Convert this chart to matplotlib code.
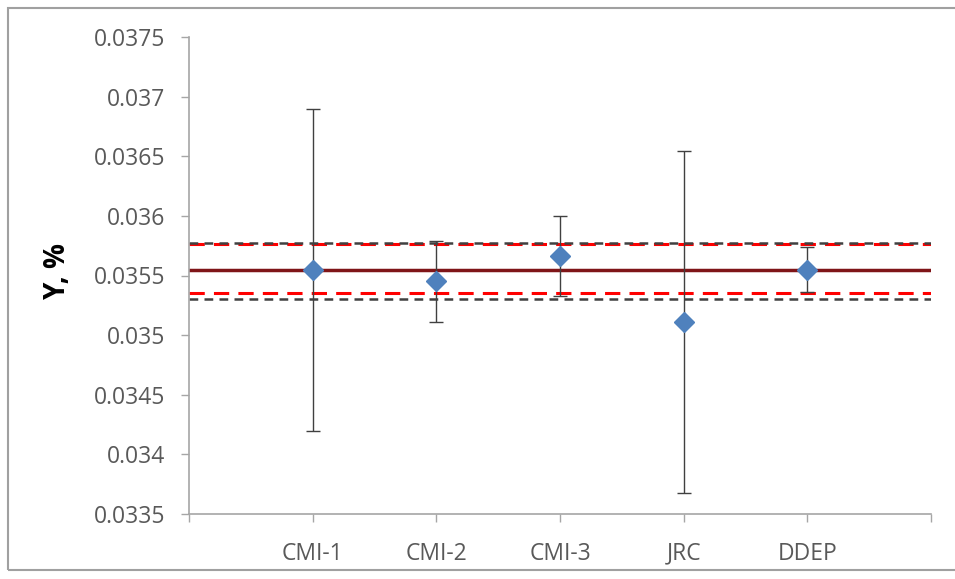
import matplotlib
matplotlib.use("Agg")
import matplotlib.pyplot as plt
import matplotlib.ticker as mticker
from matplotlib.patches import Rectangle

# ------------------------------------------------------------------
# Data
# ------------------------------------------------------------------
labs = ["CMI-1", "CMI-2", "CMI-3", "JRC", "DDEP"]
x_pos = [1, 2, 3, 4, 5]
y_vals = [0.03555, 0.03545, 0.03566, 0.03511, 0.03555]
y_err = [0.00135, 0.00034, 0.000335, 0.00143, 0.000185]

ref_mean = 0.03555
red_band = [0.03535, 0.03576]
grey_band = [0.03530, 0.03577]

_TXT = "#595959"
_AXIS = "#A6A6A6"
_MARK = "#4F81BD"

plt.rcParams.update({
    "font.family": ["Open Sans", "DejaVu Sans"],
    "font.size": 16,
})

fig = plt.figure(figsize=(9.55, 5.79), dpi=100)
ax = fig.add_axes([189 / 955, 1 - 514 / 579, (931 - 189) / 955, (514 - 37) / 579])

# reference lines
ax.axhline(ref_mean, color="#7F1518", lw=2.5, zorder=2)
for yv in red_band:
    ax.axhline(yv, color="#FF0000", lw=2.2, dashes=(5, 3), zorder=2)
for yv in grey_band:
    ax.axhline(yv, color="#404040", lw=1.8, dashes=(3.5, 2.5), zorder=2.1)

# results with uncertainties
ax.errorbar(x_pos, y_vals, yerr=y_err, fmt="none", ecolor="#404040",
            elinewidth=1.0, capsize=5, capthick=1.0, zorder=3)
ax.plot(x_pos, y_vals, linestyle="none", marker="D", markersize=10,
        color=_MARK, markeredgecolor=_MARK, zorder=4)

ax.set_xlim(0, 6)
ax.set_ylim(0.0335, 0.0375)
ax.set_xticks(x_pos)
ax.set_xticklabels(labs)
ax.yaxis.set_major_locator(mticker.MultipleLocator(0.0005))
ax.yaxis.set_major_formatter(mticker.FuncFormatter(lambda v, p: f"{v:.4f}".rstrip("0")))

# extra tick marks at the axis ends (Excel style)
ax.xaxis.set_minor_locator(mticker.FixedLocator([0, 6]))
ax.tick_params(axis="x", which="both", length=6, color=_AXIS, width=1.0,
               labelcolor=_TXT, pad=14, labelsize=16.5)
ax.tick_params(axis="y", length=6, color=_AXIS, width=1.0,
               labelcolor=_TXT, pad=11, labelsize=16.5)

for side in ("top", "right"):
    ax.spines[side].set_visible(False)
for side in ("left", "bottom"):
    ax.spines[side].set_color(_AXIS)
    ax.spines[side].set_linewidth(1.2)

ax.set_ylabel("Y, %", fontsize=20, fontweight="bold", color="black")
ax.yaxis.set_label_coords(-0.158, 0.51)

# chart-area border
fig.patches.append(Rectangle((8 / 955, 1 - 570 / 579), 1.1, (570 - 8) / 579,
                             transform=fig.transFigure, fill=False,
                             edgecolor="#A0A0A0", lw=1.5))

fig.savefig("out.png", dpi=100)
